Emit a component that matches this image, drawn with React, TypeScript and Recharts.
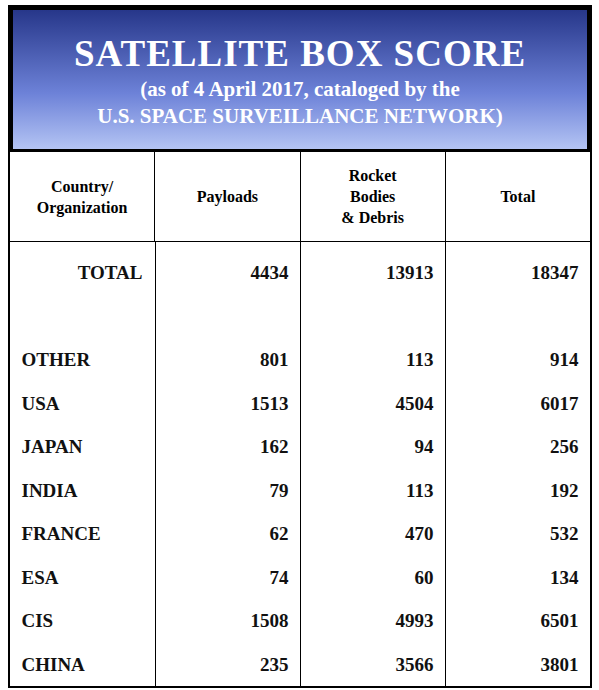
import React from "react";
import { ScatterChart, Scatter, XAxis, YAxis } from "recharts";

const columns = ["Country", "Payloads", "Rocket", "Total"];
const countries = ["CHINA", "CIS", "ESA", "FRANCE", "INDIA", "JAPAN", "USA", "OTHER", " ", "TOTAL"];
const payloads = [235, 1508, 74, 62, 79, 162, 1513, 801, null, 4434];
const debris = [3566, 4993, 60, 470, 113, 94, 4504, 113, null, 13913];
const totals = [3801, 6501, 134, 532, 192, 256, 6017, 914, null, 18347];

const FONT = "'Liberation Serif', serif";

const labelData = countries.map((c) => ({ col: "Country", country: c, text: c }));
const mk = (col: string, vals: (number | null)[]) =>
  countries.map((c, i) => ({ col, country: c, text: vals[i] == null ? "" : String(vals[i]) })).filter((d) => d.text !== "");

const RightText = (p: any) => (
  <text x={p.cx + 61} y={p.cy} textAnchor="end" dominantBaseline="central" fontFamily={FONT} fontWeight="bold" fontSize={19} fill="#111">
    {p.payload.text}
  </text>
);
const LeftText = (p: any) =>
  p.payload.text === "TOTAL" ? (
    <text x={p.cx + 60} y={p.cy} textAnchor="end" dominantBaseline="central" fontFamily={FONT} fontWeight="bold" fontSize={19} fill="#111">TOTAL</text>
  ) : (
    <text x={p.cx - 61} y={p.cy} textAnchor="start" dominantBaseline="central" fontFamily={FONT} fontWeight="bold" fontSize={19} fill="#111">
      {p.payload.text}
    </text>
  );

const hdr: React.CSSProperties = { display: "flex", alignItems: "center", justifyContent: "center", textAlign: "center", fontWeight: "bold", fontSize: 16, lineHeight: "21px" };

export default function App() {
  return (
    <div style={{ position: "absolute", left: 8, top: 5, width: 580, height: 679, border: "2px solid #000", fontFamily: FONT, background: "#fff" }}>
      <div style={{ height: 139, border: "3px solid #000", background: "linear-gradient(#27378a, #6d82d8 60%, #b4c4f4)", color: "#fff", textAlign: "center", boxSizing: "content-box" }}>
        <div style={{ fontSize: 37, fontWeight: "bold", marginTop: 22, letterSpacing: 1 }}>SATELLITE BOX SCORE</div>
        <div style={{ fontSize: 21, fontWeight: "bold", marginTop: 2 }}>(as of 4 April 2017, cataloged by the</div>
        <div style={{ fontSize: 21, fontWeight: "bold", marginTop: 2 }}>U.S. SPACE SURVEILLANCE NETWORK)</div>
      </div>
      <div style={{ display: "flex", height: 89, borderBottom: "1px solid #000" }}>
        <div style={{ ...hdr, width: 145, borderRight: "1px solid #000" }}>Country/<br />Organization</div>
        <div style={{ ...hdr, width: 145, borderRight: "1px solid #000" }}>Payloads</div>
        <div style={{ ...hdr, width: 145, borderRight: "1px solid #000" }}>Rocket<br />Bodies<br />&amp; Debris</div>
        <div style={{ ...hdr, width: 145 }}>Total</div>
      </div>
      <div style={{ position: "relative", width: 580, height: 444 }}>
        {[0, 1, 2].map((i) => (
          <div key={i} style={{ position: "absolute", left: 0, top: 0, width: 145 * (i + 1), height: 444, borderRight: "1px solid #000" }} />
        ))}
        <div style={{ position: "absolute", left: 0, top: 0 }}>
          <ScatterChart width={580} height={444} margin={{ top: 9, right: 0, bottom: 0, left: 0 }}>
            <XAxis type="category" dataKey="col" ticks={columns} domain={columns} allowDuplicatedCategory={false} hide />
            <YAxis type="category" dataKey="country" domain={countries} allowDuplicatedCategory={false} hide />
            <Scatter data={labelData} shape={LeftText} isAnimationActive={false} />
            <Scatter data={mk("Payloads", payloads)} shape={RightText} isAnimationActive={false} />
            <Scatter data={mk("Rocket", debris)} shape={RightText} isAnimationActive={false} />
            <Scatter data={mk("Total", totals)} shape={RightText} isAnimationActive={false} />
          </ScatterChart>
        </div>
      </div>
    </div>
  );
}
